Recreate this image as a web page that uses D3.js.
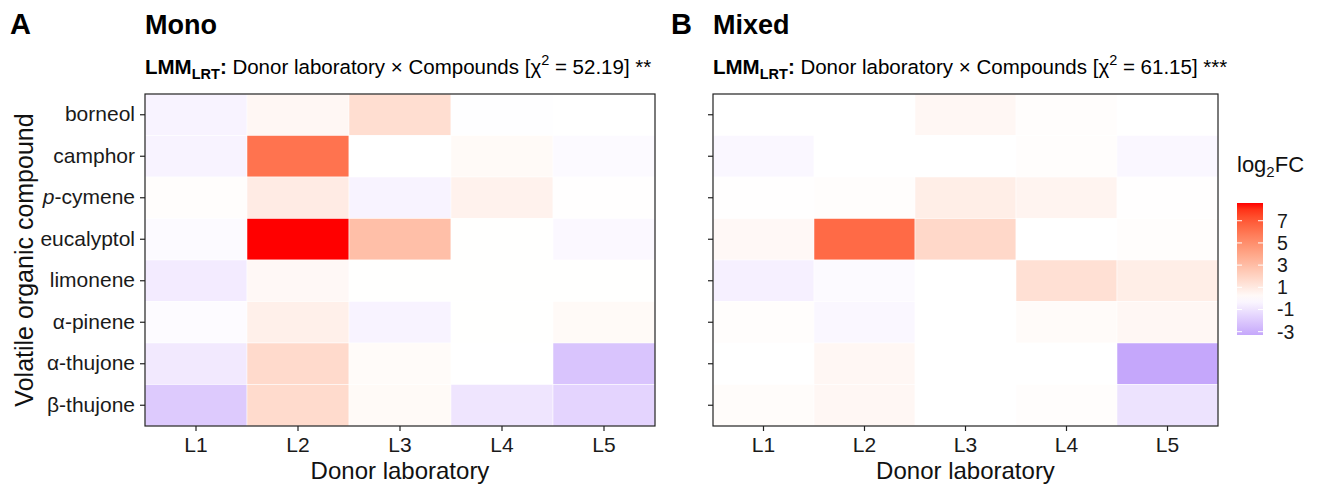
<!DOCTYPE html>
<html>
<head>
<meta charset="utf-8">
<script src="https://cdn.jsdelivr.net/npm/d3@7"></script>
<style>
  body { margin: 0; background: #fff; }
  svg { font-family: "Liberation Sans", Arial, sans-serif; }
</style>
</head>
<body>
<div id="chart"></div>
<script>
var svgWidth = 1320;
var svgHeight = 486;

// rows top to bottom, columns left to right
var compounds = ["borneol", "camphor", "p-cymene", "eucalyptol", "limonene", "α-pinene", "α-thujone", "β-thujone"];
var labs = ["L1", "L2", "L3", "L4", "L5"];

// log2FC per compound (rows) and donor laboratory (cols)
var monoValues = [
  [-0.45, 0.35, 1.5, -0.05, 0.0],
  [-0.45, 6.1, 0.0, 0.25, -0.2],
  [0.1, 0.9, -0.45, 0.6, 0.03],
  [-0.2, 8.6, 2.9, 0.02, -0.25],
  [-0.72, 0.3, 0.02, 0.02, 0.02],
  [-0.15, 0.7, -0.45, 0.02, 0.25],
  [-0.8, 1.7, 0.2, 0.01, -2.2],
  [-1.97, 1.65, 0.25, -0.97, -1.58]
];
var mixedValues = [
  [0.0, 0.0, 0.35, 0.1, 0.0],
  [-0.28, 0.0, 0.0, 0.1, -0.3],
  [0.03, 0.1, 0.8, 0.5, 0.03],
  [0.3, 6.4, 1.8, 0.0, 0.1],
  [-0.55, -0.2, 0.0, 1.4, 0.8],
  [0.1, -0.28, 0.0, 0.2, 0.35],
  [0.0, 0.35, 0.0, 0.0, -3.3],
  [0.15, 0.35, 0.0, 0.1, -1.05]
];
var legendTicks = [-3, -1, 1, 3, 5, 7];

var fcMin = d3.min(monoValues.concat(mixedValues), r => d3.min(r));
var fcMax = d3.max(monoValues.concat(mixedValues), r => d3.max(r));

var color = d3.scaleLinear()
  .domain([fcMin, 0, fcMax])
  .range(["#c5a7fb", "#ffffff", "#ff0000"])
  .interpolate(d3.interpolateLab);

var svg = d3.select("#chart")
  .append("svg")
  .attr("width", svgWidth)
  .attr("height", svgHeight);

var plotTop = 94, plotBottom = 426;

function drawPanel(values, x0, x1, letter, letterX, title, chi, stars, showLabels) {
  var x = d3.scaleBand().domain(labs).range([x0, x1]);
  var y = d3.scaleBand().domain(compounds).range([plotTop, plotBottom]);

  var cells = [];
  values.forEach(function(row, i) {
    row.forEach(function(v, j) {
      cells.push({ compound: compounds[i], lab: labs[j], value: v });
    });
  });

  svg.append("g").selectAll("rect")
    .data(cells)
    .enter()
    .append("rect")
    .attr("x", d => x(d.lab))
    .attr("y", d => y(d.compound))
    .attr("width", x.bandwidth())
    .attr("height", y.bandwidth())
    .attr("fill", d => color(d.value))
    .attr("stroke", "#ffffff")
    .attr("stroke-width", 0.5);

  // border
  svg.append("rect")
    .attr("x", x0)
    .attr("y", plotTop)
    .attr("width", x1 - x0)
    .attr("height", plotBottom - plotTop)
    .attr("fill", "none")
    .attr("stroke", "#222")
    .attr("stroke-width", 1.2);

  // x axis
  var xAxis = svg.append("g")
    .attr("transform", `translate(0, ${plotBottom})`)
    .call(d3.axisBottom(x).tickSize(5).tickSizeOuter(0).tickPadding(6));
  xAxis.select(".domain").remove();
  xAxis.selectAll("line").attr("stroke", "#222").attr("stroke-width", 1.2);
  xAxis.selectAll("text")
    .attr("font-size", 21)
    .attr("fill", "#1a1a1a")
    .attr("font-family", "Liberation Sans, Arial, sans-serif");

  // y axis
  var yAxis = svg.append("g")
    .attr("transform", `translate(${x0}, 0)`)
    .call(d3.axisLeft(y).tickSize(5).tickSizeOuter(0).tickPadding(5));
  yAxis.select(".domain").remove();
  yAxis.selectAll("line").attr("stroke", "#222").attr("stroke-width", 1.2);
  if (showLabels) {
    yAxis.selectAll("text")
      .attr("font-size", 21)
      .attr("fill", "#1a1a1a")
      .attr("font-family", "Liberation Sans, Arial, sans-serif")
      .each(function(d) {
        if (d === "p-cymene") {
          var t = d3.select(this).text("");
          t.append("tspan").attr("font-style", "italic").text("p");
          t.append("tspan").text("-cymene");
        }
      });
  } else {
    yAxis.selectAll("text").remove();
  }

  // x axis title
  svg.append("text")
    .attr("x", (x0 + x1) / 2)
    .attr("y", 479)
    .attr("text-anchor", "middle")
    .attr("font-size", 24)
    .attr("fill", "#111")
    .text("Donor laboratory");

  // panel letter and title
  svg.append("text")
    .attr("x", letterX)
    .attr("y", 34)
    .attr("font-size", 29)
    .attr("font-weight", "bold")
    .attr("fill", "#000")
    .text(letter);

  svg.append("text")
    .attr("x", x0)
    .attr("y", 34)
    .attr("font-size", 27)
    .attr("font-weight", "bold")
    .attr("fill", "#000")
    .text(title);

  // subtitle
  var sub = svg.append("text")
    .attr("x", x0)
    .attr("y", 74)
    .attr("font-size", 20.5)
    .attr("fill", "#000");
  sub.append("tspan").attr("font-weight", "bold").text("LMM");
  sub.append("tspan").attr("font-weight", "bold").attr("font-size", 14.5).attr("dy", 5).text("LRT");
  sub.append("tspan").attr("font-weight", "bold").attr("dy", -5).text(":");
  sub.append("tspan").text(" Donor laboratory × Compounds [χ");
  sub.append("tspan").attr("font-size", 14.5).attr("dy", -9).text("2");
  sub.append("tspan").attr("dy", 9).text(" = " + chi + "] " + stars);
}

drawPanel(monoValues, 145, 655, "A", 10, "Mono", "52.19", "**", true);
drawPanel(mixedValues, 713, 1218, "B", 671, "Mixed", "61.15", "***", false);

// y axis title
svg.append("text")
  .attr("transform", `translate(33, ${(plotTop + plotBottom) / 2}) rotate(-90)`)
  .attr("text-anchor", "middle")
  .attr("font-size", 25)
  .attr("fill", "#111")
  .text("Volatile organic compound");

// legend
var legX = 1237, legW = 26, legTop = 203, legBottom = 335;
var legScale = d3.scaleLinear().domain([fcMin, fcMax]).range([legBottom, legTop]);

var grad = svg.append("defs").append("linearGradient")
  .attr("id", "fcgrad")
  .attr("x1", 0).attr("y1", 1).attr("x2", 0).attr("y2", 0);
d3.range(0, 1.0001, 0.05).forEach(function(t) {
  var v = fcMin + t * (fcMax - fcMin);
  grad.append("stop").attr("offset", t).attr("stop-color", color(v));
});

var title = svg.append("text")
  .attr("x", legX)
  .attr("y", 172)
  .attr("font-size", 22)
  .attr("fill", "#111");
title.append("tspan").text("log");
title.append("tspan").attr("font-size", 15).attr("dy", 5).text("2");
title.append("tspan").attr("dy", -5).text("FC");

svg.append("rect")
  .attr("x", legX)
  .attr("y", legTop)
  .attr("width", legW)
  .attr("height", legBottom - legTop)
  .attr("fill", "url(#fcgrad)");

var legTickG = svg.append("g").selectAll("g")
  .data(legendTicks)
  .enter()
  .append("g")
  .attr("transform", d => `translate(0, ${legScale(d)})`);
legTickG.append("line")
  .attr("x1", legX).attr("x2", legX + 5)
  .attr("stroke", "#fff").attr("stroke-width", 1);
legTickG.append("line")
  .attr("x1", legX + legW - 5).attr("x2", legX + legW)
  .attr("stroke", "#fff").attr("stroke-width", 1);
legTickG.append("text")
  .attr("x", legX + legW + 14)
  .attr("dy", "0.35em")
  .attr("font-size", 19.5)
  .attr("fill", "#1a1a1a")
  .text(d => d < 0 ? "-" + Math.abs(d) : d);
</script>
</body>
</html>
